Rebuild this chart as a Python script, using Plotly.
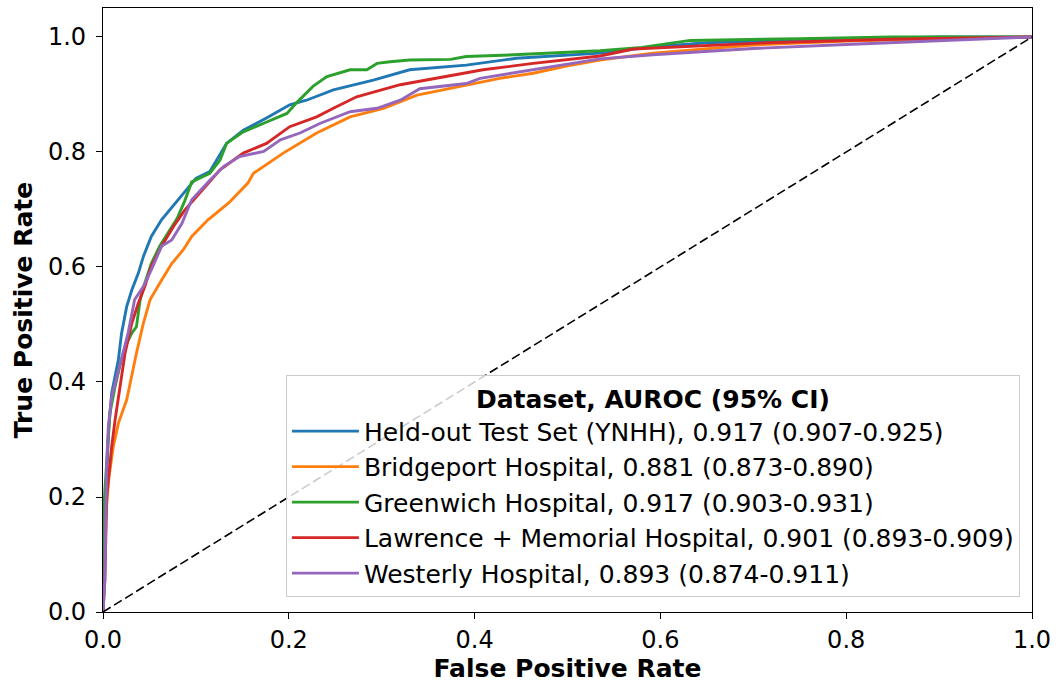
import plotly.graph_objects as go

# ---------------- data ----------------
names = [
    "Held-out Test Set (YNHH), 0.917 (0.907-0.925)",
    "Bridgeport Hospital, 0.881 (0.873-0.890)",
    "Greenwich Hospital, 0.917 (0.903-0.931)",
    "Lawrence + Memorial Hospital, 0.901 (0.893-0.909)",
    "Westerly Hospital, 0.893 (0.874-0.911)",
]
colors = ["#1f77b4", "#ff7f0e", "#2ca02c", "#d62728", "#9467bd"]

ynhh_fpr = [0, 0.0, 0.003, 0.006, 0.0093, 0.0129, 0.0165, 0.020, 0.0255, 0.031, 0.038, 0.0434, 0.052,
            0.063, 0.0775, 0.0865, 0.100, 0.115, 0.133, 0.151, 0.176, 0.201, 0.219, 0.248, 0.291,
            0.330, 0.391, 0.445, 0.535, 0.600, 0.650, 0.750, 0.900, 1.0]
ynhh_tpr = [0, 0.10, 0.20, 0.317, 0.380, 0.409, 0.438, 0.485, 0.531, 0.560, 0.589, 0.618, 0.653,
            0.682, 0.711, 0.728, 0.754, 0.766, 0.815, 0.838, 0.859, 0.882, 0.890, 0.908, 0.925,
            0.943, 0.951, 0.963, 0.972, 0.984, 0.990, 0.995, 1.0, 1.0]

bridgeport_fpr = [0, 0.002, 0.002, 0.006, 0.011, 0.0165, 0.0255, 0.031, 0.036, 0.0434, 0.0506, 0.063,
                  0.074, 0.0865, 0.0955, 0.113, 0.135, 0.156, 0.162, 0.194, 0.230, 0.266, 0.302,
                  0.338, 0.391, 0.427, 0.463, 0.500, 0.535, 0.592, 0.700, 0.800, 0.900, 1.0]
bridgeport_tpr = [0, 0.10, 0.143, 0.230, 0.287, 0.328, 0.369, 0.415, 0.450, 0.502, 0.543, 0.577,
                  0.606, 0.630, 0.653, 0.682, 0.711, 0.746, 0.763, 0.798, 0.833, 0.861, 0.876,
                  0.899, 0.917, 0.928, 0.937, 0.950, 0.960, 0.972, 0.986, 0.993, 0.997, 1.0]

greenwich_fpr = [0, 0.0, 0.002, 0.004, 0.0075, 0.013, 0.018, 0.0237, 0.031, 0.036, 0.040, 0.045,
                 0.052, 0.061, 0.074, 0.080, 0.088, 0.0955, 0.115, 0.126, 0.133, 0.151, 0.173,
                 0.198, 0.208, 0.226, 0.241, 0.266, 0.284, 0.295, 0.309, 0.330, 0.374, 0.391,
                 0.442, 0.535, 0.580, 0.632, 0.750, 0.850, 1.0]
greenwich_tpr = [0, 0.15, 0.212, 0.259, 0.346, 0.392, 0.427, 0.461, 0.485, 0.496, 0.543, 0.572,
                 0.606, 0.636, 0.670, 0.685, 0.715, 0.748, 0.763, 0.786, 0.815, 0.835, 0.850,
                 0.867, 0.885, 0.914, 0.931, 0.943, 0.943, 0.954, 0.957, 0.960, 0.961, 0.966,
                 0.969, 0.976, 0.982, 0.994, 0.997, 1.0, 1.0]

lm_fpr = [0, 0.002, 0.004, 0.0093, 0.013, 0.018, 0.0237, 0.031, 0.038, 0.045, 0.052, 0.063, 0.0757,
          0.088, 0.104, 0.126, 0.151, 0.176, 0.201, 0.230, 0.248, 0.273, 0.320, 0.356, 0.409,
          0.463, 0.535, 0.571, 0.715, 0.850, 1.0]
lm_tpr = [0, 0.056, 0.200, 0.287, 0.334, 0.392, 0.450, 0.502, 0.537, 0.566, 0.601, 0.636, 0.670,
          0.699, 0.728, 0.769, 0.798, 0.815, 0.844, 0.861, 0.876, 0.896, 0.917, 0.928, 0.943,
          0.954, 0.967, 0.979, 0.990, 0.996, 1.0]

westerly_fpr = [0, 0.002, 0.004, 0.0057, 0.0093, 0.013, 0.020, 0.027, 0.0326, 0.034, 0.0434, 0.052,
                0.063, 0.074, 0.085, 0.0955, 0.115, 0.130, 0.147, 0.173, 0.191, 0.212, 0.234,
                0.266, 0.295, 0.320, 0.341, 0.391, 0.406, 0.463, 0.535, 0.592, 0.700, 0.800,
                0.893, 0.950, 1.0]
westerly_tpr = [0, 0.056, 0.259, 0.322, 0.374, 0.398, 0.438, 0.485, 0.531, 0.543, 0.566, 0.595,
                0.636, 0.647, 0.676, 0.717, 0.751, 0.775, 0.792, 0.801, 0.821, 0.833, 0.850,
                0.870, 0.876, 0.890, 0.910, 0.919, 0.928, 0.943, 0.962, 0.969, 0.980, 0.987,
                0.993, 0.997, 1.0]

chance_x = [0, 1]
chance_y = [0, 1]

tick_vals = [0.0, 0.2, 0.4, 0.6, 0.8, 1.0]
tick_text = ["0.0", "0.2", "0.4", "0.6", "0.8", "1.0"]

series = [
    (ynhh_fpr, ynhh_tpr),
    (bridgeport_fpr, bridgeport_tpr),
    (greenwich_fpr, greenwich_tpr),
    (lm_fpr, lm_tpr),
    (westerly_fpr, westerly_tpr),
]

# ---------------- figure ----------------
FONT = "DejaVu Sans"
fig = go.Figure()
for (fx, fy), name, col in zip(series, names, colors):
    fig.add_trace(go.Scatter(x=fx, y=fy, mode="lines", name=name,
                             line=dict(color=col, width=2.9)))
fig.add_trace(go.Scatter(x=chance_x, y=chance_y, mode="lines", showlegend=False,
                         line=dict(color="black", width=1.6, dash="9px,4px"), hoverinfo="skip"))

axis_common = dict(
    showline=True, mirror=True, linecolor="black", linewidth=1.2,
    ticks="outside", ticklen=6, tickwidth=1.2, tickcolor="black",
    showgrid=False, zeroline=False,
    tickvals=tick_vals, ticktext=tick_text,
    tickfont=dict(family=FONT, size=24, color="black"),
)
fig.update_xaxes(range=[0, 1], **axis_common,
                 title=dict(text="<b>False Positive Rate</b>",
                            font=dict(family=FONT, size=25, color="black"), standoff=6))
fig.update_yaxes(range=[0, 1.0504], **axis_common, ticklabelstandoff=5,
                 title=dict(text="<b>True Positive Rate</b>",
                            font=dict(family=FONT, size=25, color="black"), standoff=8))

fig.update_layout(
    width=1058, height=688,
    margin=dict(l=103, r=26, t=8, b=76),
    plot_bgcolor="white", paper_bgcolor="white",
    font=dict(family=FONT, size=25, color="black"),
    legend=dict(
        title=dict(text="<b>Dataset, AUROC (95% CI)</b>", side="top center",
                   font=dict(family=FONT, size=25, color="black")),
        font=dict(family=FONT, size=25, color="black"),
        x=0.987, xanchor="right", y=0.025, yanchor="bottom",
        bgcolor="rgba(255,255,255,0.8)", bordercolor="#cccccc", borderwidth=1,
        tracegroupgap=0, itemwidth=67,
    ),
)

fig.write_html("out.html")
